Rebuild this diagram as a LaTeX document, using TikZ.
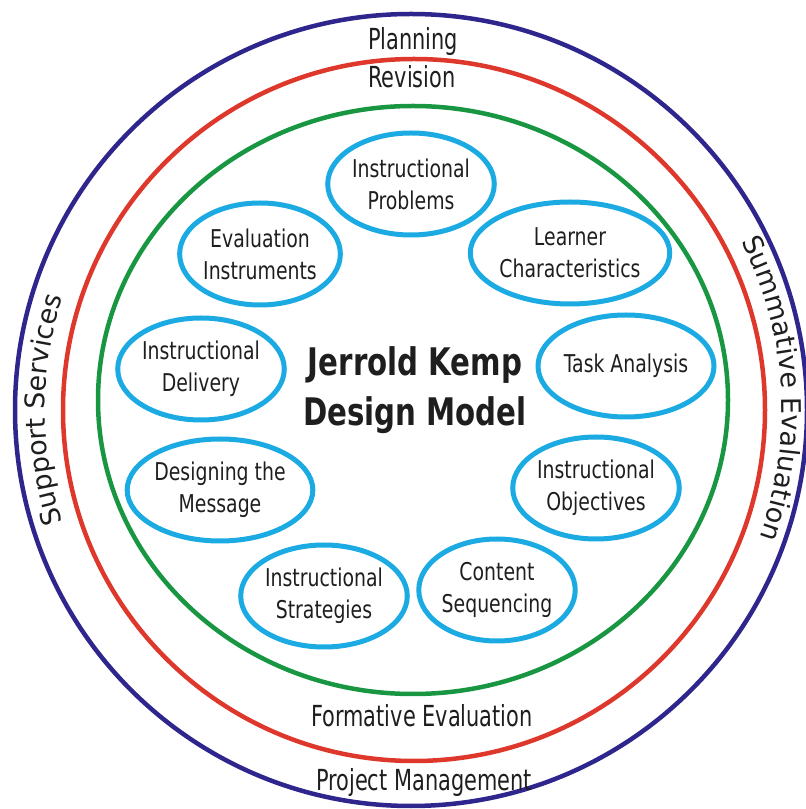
\documentclass[tikz,border=0pt]{standalone}
\usepackage{fontspec}
\setmainfont{DejaVu Sans}
\newfontfamily\ringfont[FakeStretch=0.72]{DejaVu Sans}
\newfontfamily\blobfont[FakeStretch=0.77]{DejaVu Sans}
\newfontfamily\titlefont[FakeStretch=0.77]{DejaVu Sans}
\usepackage{tikz}
\usetikzlibrary{shapes.geometric,decorations.text}
\definecolor{rp}{RGB}{46,38,140}
\definecolor{rr}{RGB}{222,56,44}
\definecolor{rg}{RGB}{24,150,66}
\definecolor{eb}{RGB}{28,170,226}
\definecolor{tx}{RGB}{30,30,30}
\newcommand\sidefont{\fontsize{27}{32}\selectfont\color{tx}}
\tikzset{
  ring/.style={line width=4.5pt,draw=#1},
  en/.style={ellipse,draw=eb,line width=5pt,minimum width=155pt,
    minimum height=102pt,inner sep=0pt,align=center,text=tx,
    font=\blobfont\fontsize{24.5}{32}\selectfont},
  rl/.style={anchor=base,inner sep=0pt,text=tx,
    font=\ringfont\fontsize{29}{34}\selectfont},
  sidetext/.style={decorate,decoration={text along path,
    text={|\sidefont|#1},text align=center}},
}

\begin{document}
\begin{tikzpicture}[x=1pt,y=1pt]
    \useasboundingbox (0,0) rectangle (806,809);

    % Three rings
    \draw[ring=rp] (411,399) circle[radius=396];
    \draw[ring=rr] (414,399) circle[radius=351];
    \draw[ring=rg] (413,409) ellipse[x radius=315,y radius=294];

    % Ring labels
    \node[rl] (plan) at (413,759) {Planning};
    \node[rl] (rev)  at (412,721) {Revision};
    \node[rl] (form) at (422,82)  {Formative Evaluation};
    \node[rl] (pm)   at (424,19)  {Project Management};

    % Curved labels between the outer rings
    \path[sidetext=Support Services]
      (411,399) ++(215:366) arc[start angle=215,end angle=145,radius=366];
    \path[sidetext=Summative Evaluation]
      (411,399) ++(45:371) arc[start angle=45,end angle=-38,radius=371];

    % Centre title
    \node[align=center,text=tx,
      font=\titlefont\bfseries\fontsize{38}{50}\selectfont] (ttl)
      at (415,419) {Jerrold Kemp\\Design Model};

    % Nine steps round the title
    \node[en] (prob) at (411,625) {Instructional\\Problems};
    \node[en] (lrn)  at (570,556) {Learner\\Characteristics};
    \node[en] (task) at (626,443) {Task Analysis};
    \node[en] (obj)  at (596,321) {Instructional\\Objectives};
    \node[en] (seq)  at (497,219) {Content\\Sequencing};
    \node[en] (strat) at (324,213) {Instructional\\Strategies};
    \node[en] (msg)  at (220,319) {Designing the\\Message};
    \node[en] (dlv)  at (201,440) {Instructional\\Delivery};
    \node[en] (inst) at (260,555) {Evaluation\\Instruments};
  \end{tikzpicture}
\end{document}
